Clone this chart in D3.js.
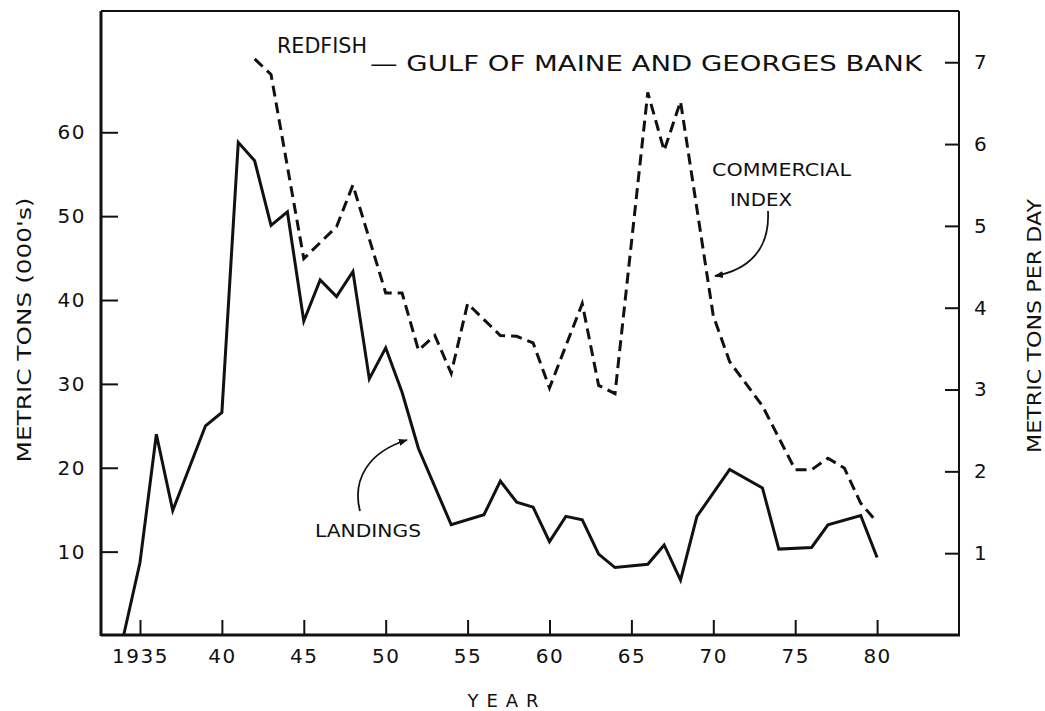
<!DOCTYPE html>
<html><head><meta charset="utf-8">
<script src="https://cdn.jsdelivr.net/npm/d3@7"></script>
<style>
body{margin:0;background:#fff}
text{font-family:"DejaVu Sans",sans-serif;fill:#111}
</style>
</head><body>
<svg id="c" width="1045" height="711"></svg>
<script>
// ---- data ----
const landingYears  = [1934,1935,1936,1937,1939,1940,1941,1942,1943,1944,1945,1946,1947,1948,1949,1950,1951,1952,1954,1956,1957,1958,1959,1960,1961,1962,1963,1964,1966,1967,1968,1969,1971,1973,1974,1976,1977,1979,1980];
const landingValues = [0,8.7,24.0,14.9,25.0,26.6,58.8,56.6,48.9,50.5,37.5,42.4,40.4,43.4,30.6,34.3,29.0,22.3,13.2,14.4,18.4,15.9,15.3,11.2,14.2,13.8,9.7,8.1,8.5,10.8,6.6,14.2,19.8,17.6,10.3,10.5,13.2,14.3,9.3];
const indexYears  = [1942,1943,1945,1947,1948,1950,1951,1952,1953,1954,1955,1957,1958,1959,1960,1962,1963,1964,1966,1967,1968,1970,1971,1973,1975,1976,1977,1978,1979,1980];
const indexValues = [7.04,6.85,4.60,4.99,5.50,4.18,4.18,3.48,3.66,3.20,4.05,3.66,3.65,3.57,3.02,4.05,3.05,2.95,6.63,5.92,6.52,3.90,3.34,2.80,2.02,2.02,2.16,2.04,1.61,1.38];
const xTicks = [1935,1940,1945,1950,1955,1960,1965,1970,1975,1980];
const xTickLabels = ["1935","40","45","50","55","60","65","70","75","80"];
const leftTicks = [10,20,30,40,50,60];
const rightTicks = [1,2,3,4,5,6,7];

// ---- layout ----
const L = 101, R = 959, T = 11, B = 635;
const svg = d3.select("#c");
const x  = d3.scaleLinear().domain([1932.62, 1985.0]).range([L, R]);
const yL = d3.scaleLinear().domain([0, 74.4]).range([B + 0.5, T + 0.5]);
const yR = d3.scaleLinear().domain([0, 7.62]).range([B, T + 0.5]);

// frame
svg.append("line").attr("x1",L).attr("x2",L).attr("y1",T).attr("y2",B+1).attr("stroke","#111").attr("stroke-width",3);
svg.append("line").attr("x1",L).attr("x2",R+1).attr("y1",B).attr("y2",B).attr("stroke","#111").attr("stroke-width",3);
svg.append("line").attr("x1",L).attr("x2",R).attr("y1",T).attr("y2",T).attr("stroke","#111").attr("stroke-width",2);
svg.append("line").attr("x1",R).attr("x2",R).attr("y1",T).attr("y2",B).attr("stroke","#111").attr("stroke-width",2);

function styleAxis(g){
  g.select(".domain").remove();
  g.selectAll(".tick line").attr("stroke","#111").attr("stroke-width",2);
  g.selectAll(".tick text").attr("font-size",20).attr("letter-spacing",1.5).attr("fill","#111")
   .style("font-family",'"DejaVu Sans",sans-serif');
}
svg.append("g").attr("transform",`translate(0,${B})`)
  .call(d3.axisBottom(x).tickValues(xTicks).tickFormat((d,i)=>xTickLabels[i]).tickSize(-15).tickPadding(14))
  .call(styleAxis);
svg.append("g").attr("transform",`translate(${L},0)`)
  .call(d3.axisLeft(yL).tickValues(leftTicks).tickSize(-17).tickPadding(15))
  .call(styleAxis);
svg.append("g").attr("transform",`translate(${R},0)`)
  .call(d3.axisRight(yR).tickValues(rightTicks).tickSize(-14).tickPadding(15))
  .call(styleAxis);

// series
const landings = landingYears.map((yr,i)=>({yr, v: landingValues[i]}));
const index = indexYears.map((yr,i)=>({yr, v: indexValues[i]}));
svg.append("path").datum(landings)
  .attr("d", d3.line().x(d=>x(d.yr)).y(d=>yL(d.v)))
  .attr("fill","none").attr("stroke","#111").attr("stroke-width",3).attr("stroke-linejoin","miter");
svg.append("path").datum(index)
  .attr("d", d3.line().x(d=>x(d.yr)).y(d=>yR(d.v)))
  .attr("fill","none").attr("stroke","#111").attr("stroke-width",3).attr("stroke-dasharray","11,6");

// arrows
const defs = svg.append("defs");
defs.append("marker").attr("id","ah").attr("viewBox","0 0 10 10").attr("refX",9).attr("refY",5)
  .attr("markerWidth",9).attr("markerHeight",9).attr("markerUnits","userSpaceOnUse").attr("orient","auto")
  .append("path").attr("d","M0,1 L10,5 L0,9 Z").attr("fill","#111");
svg.append("path").attr("d","M360,511 C352,480 368,452 407,440")
  .attr("fill","none").attr("stroke","#111").attr("stroke-width",1.8).attr("marker-end","url(#ah)");
svg.append("path").attr("d","M768,211 C770,250 748,270 715,276")
  .attr("fill","none").attr("stroke","#111").attr("stroke-width",1.8).attr("marker-end","url(#ah)");

// texts
svg.append("text").attr("x",277).attr("y",53).attr("font-size",21)
  .attr("textLength",90).attr("lengthAdjust","spacingAndGlyphs").text("REDFISH");
svg.append("text").attr("x",370).attr("y",71).attr("font-size",21)
  .attr("textLength",552).attr("lengthAdjust","spacingAndGlyphs").text("— GULF OF MAINE AND GEORGES BANK");
svg.append("text").attr("x",315).attr("y",537).attr("font-size",18)
  .attr("textLength",106).attr("lengthAdjust","spacingAndGlyphs").text("LANDINGS");
svg.append("text").attr("x",712).attr("y",176).attr("font-size",18)
  .attr("textLength",139).attr("lengthAdjust","spacingAndGlyphs").text("COMMERCIAL");
svg.append("text").attr("x",730).attr("y",206).attr("font-size",18)
  .attr("textLength",62).attr("lengthAdjust","spacingAndGlyphs").text("INDEX");
svg.append("text").attr("x",507).attr("y",707).attr("font-size",18).attr("text-anchor","middle")
  .attr("letter-spacing",8).text("YEAR");
svg.append("text").attr("transform","translate(31,330) rotate(-90)").attr("font-size",19)
  .attr("text-anchor","middle").attr("textLength",265).attr("lengthAdjust","spacingAndGlyphs").text("METRIC TONS (000's)");
svg.append("text").attr("transform","translate(1041,326) rotate(-90)").attr("font-size",19)
  .attr("text-anchor","middle").attr("textLength",254).attr("lengthAdjust","spacingAndGlyphs").text("METRIC TONS PER DAY");
</script>
</body></html>
